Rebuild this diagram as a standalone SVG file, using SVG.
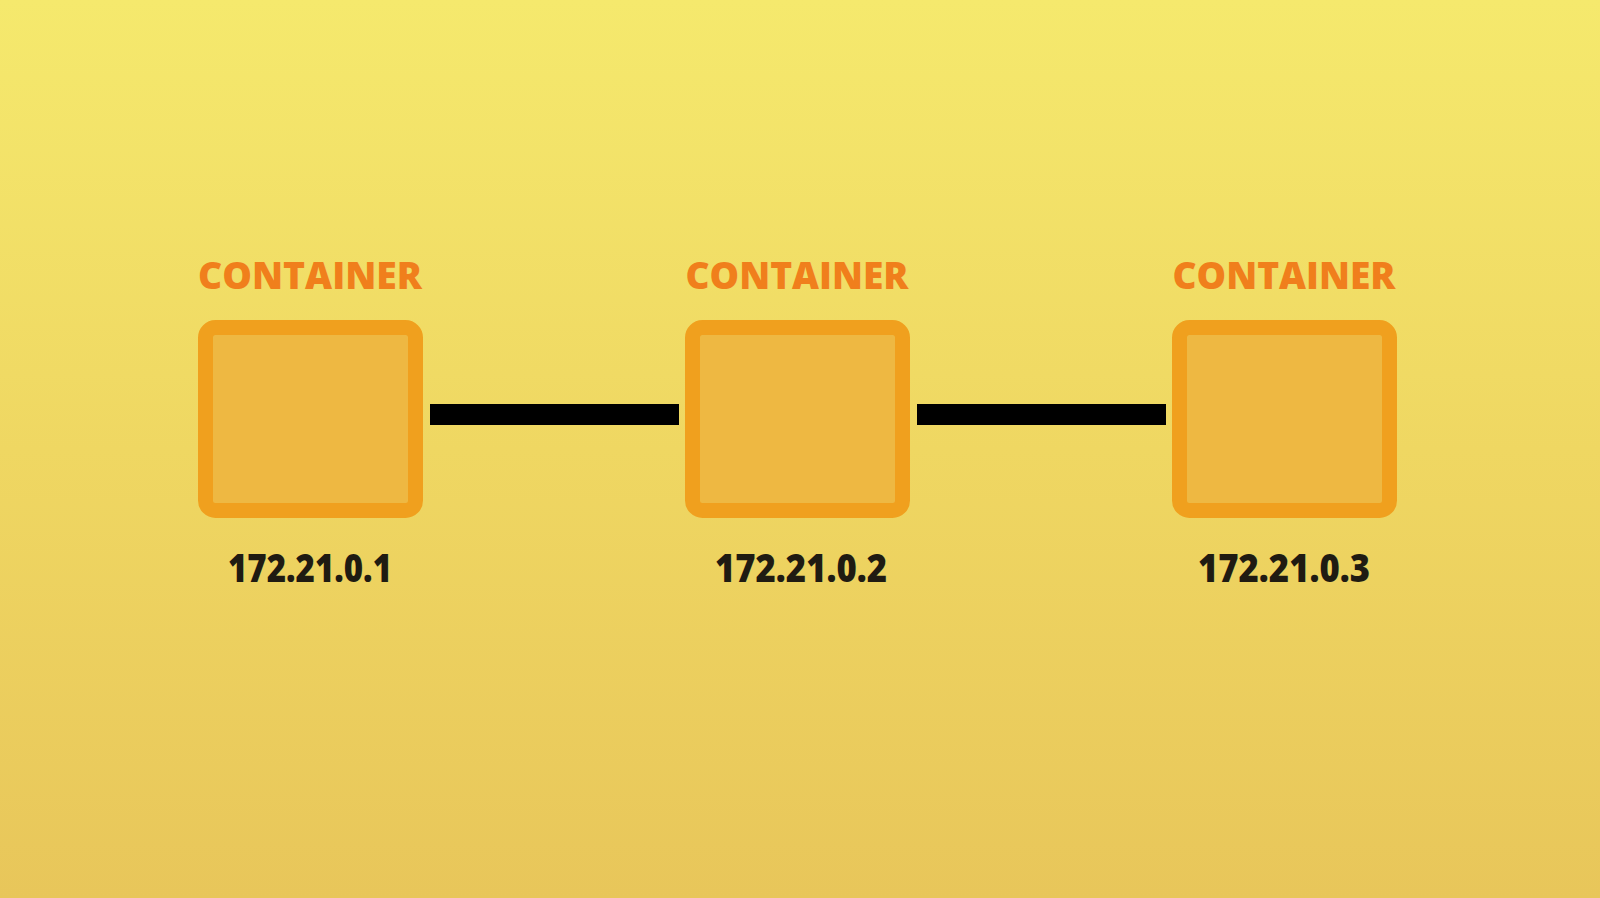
<svg xmlns="http://www.w3.org/2000/svg" width="1600" height="898" viewBox="0 0 1600 898">
<defs>
<linearGradient id="bg" x1="0" y1="0" x2="0" y2="1">
<stop offset="0" stop-color="#F5E96D"/>
<stop offset="0.5" stop-color="#EFD762"/>
<stop offset="1" stop-color="#E8C65A"/>
</linearGradient>
</defs>
<style>
.box{fill:#EEB842;stroke:#F0A01E;stroke-width:15}
.title{font-family:"Open Sans","Liberation Sans",sans-serif;font-weight:800;font-size:37px;fill:#F07F1C;text-anchor:middle}
.ip{font-family:"Open Sans","Liberation Sans",sans-serif;font-weight:800;font-size:39px;fill:#1F1B12;text-anchor:middle}
.link{fill:#000}
</style>
<rect width="1600" height="898" fill="url(#bg)"/>
<g id="connectors">
<rect class="link" x="430" y="404" width="249" height="21"/>
<rect class="link" x="917" y="404" width="249" height="21"/>
</g>
<g id="node1">
<text class="title" x="310" y="289" textLength="224" lengthAdjust="spacingAndGlyphs">CONTAINER</text>
<rect class="box" x="205.5" y="327.5" width="210" height="183" rx="10"/>
<text class="ip" x="310" y="582" textLength="164" lengthAdjust="spacingAndGlyphs">172.21.0.1</text>
</g>
<g id="node2">
<text class="title" x="797" y="289" textLength="223" lengthAdjust="spacingAndGlyphs">CONTAINER</text>
<rect class="box" x="692.5" y="327.5" width="210" height="183" rx="10"/>
<text class="ip" x="801" y="582" textLength="172" lengthAdjust="spacingAndGlyphs">172.21.0.2</text>
</g>
<g id="node3">
<text class="title" x="1284" y="289" textLength="223" lengthAdjust="spacingAndGlyphs">CONTAINER</text>
<rect class="box" x="1179.5" y="327.5" width="210" height="183" rx="10"/>
<text class="ip" x="1284" y="582" textLength="172" lengthAdjust="spacingAndGlyphs">172.21.0.3</text>
</g>
</svg>
